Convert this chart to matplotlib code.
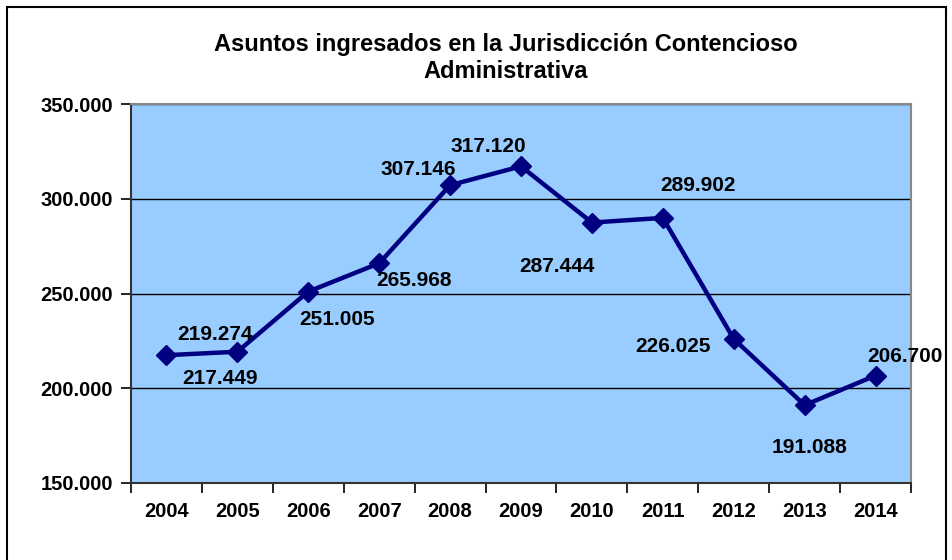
import matplotlib
matplotlib.use("Agg")
import matplotlib.pyplot as plt
from matplotlib.ticker import FuncFormatter, FixedLocator
from matplotlib.patches import Rectangle

years = ["2004", "2005", "2006", "2007", "2008", "2009", "2010", "2011", "2012", "2013", "2014"]
values = [217449, 219274, 251005, 265968, 307146, 317120, 287444, 289902, 226025, 191088, 206700]
labels = ["217.449", "219.274", "251.005", "265.968", "307.146", "317.120",
          "287.444", "289.902", "226.025", "191.088", "206.700"]
# label offsets in pixels (dx, dy) relative to the point
offsets = [(54, -23), (-22, 17), (29, -28), (35, -17), (-32, 16), (-33, 20),
           (-35, -44), (35, 32), (-61, -8), (5, -42), (29, 19)]

plt.rcParams['font.family'] = ['Liberation Sans', 'DejaVu Sans']
plt.rcParams['font.weight'] = 'bold'

fig = plt.figure(figsize=(9.53, 5.6), dpi=100)
W, H = 953, 560
ax = fig.add_axes([131 / W, 1 - 483 / H, 780 / W, 379 / H])

# figure border
fig.patches.append(Rectangle((7 / W, -0.02), 939 / W, 1 - 7 / H + 0.02, transform=fig.transFigure,
                             fill=False, edgecolor='black', linewidth=1.5))

ax.set_facecolor('#99CCFF')
x = list(range(len(years)))
ax.plot(x, values, color='#000080', linewidth=3.2, marker='D', markersize=10.5,
        markerfacecolor='#000080', markeredgecolor='#000080', zorder=3)

for xi, v, lab, (dx, dy) in zip(x, values, labels, offsets):
    ax.annotate(lab, (xi, v), xytext=(dx, dy), textcoords='offset pixels',
                ha='center', va='center', fontsize=15, fontweight='bold', color='black', zorder=4)

ax.set_xlim(-0.5, len(years) - 0.5)
ax.set_ylim(150000, 350000)
ax.set_yticks([150000, 200000, 250000, 300000, 350000])
ax.yaxis.set_major_formatter(FuncFormatter(lambda v, p: f"{int(v):,}".replace(",", ".")))
ax.yaxis.grid(True, color='black', linewidth=1.0)
ax.set_axisbelow(True)

ax.xaxis.set_major_locator(FixedLocator([i - 0.5 for i in range(len(years) + 1)]))
ax.xaxis.set_major_formatter(FuncFormatter(lambda v, p: ""))
ax.set_xticks(x, minor=True)
ax.set_xticklabels(years, minor=True)
ax.tick_params(axis='x', which='minor', length=0, pad=14, labelsize=14.5)
ax.tick_params(axis='x', which='major', length=7, width=1.2, direction='out')
ax.tick_params(axis='y', length=7, width=1.2, direction='out', labelsize=14.5, pad=6)
for lab in ax.get_xticklabels(minor=True) + ax.get_yticklabels():
    lab.set_fontweight('bold')

ax.spines['left'].set_color('#333333')
ax.spines['bottom'].set_color('#333333')
ax.spines['left'].set_linewidth(1.5)
ax.spines['bottom'].set_linewidth(1.5)
ax.spines['top'].set_color('#888888')
ax.spines['right'].set_color('#888888')
ax.spines['top'].set_linewidth(1.5)
ax.spines['right'].set_linewidth(1.5)

fig.text(506 / W, 1 - 58 / H, "Asuntos ingresados en la Jurisdicción Contencioso\nAdministrativa",
         ha='center', va='center', fontsize=17, fontweight='bold', linespacing=1.2)

fig.savefig("out.png", dpi=100)
